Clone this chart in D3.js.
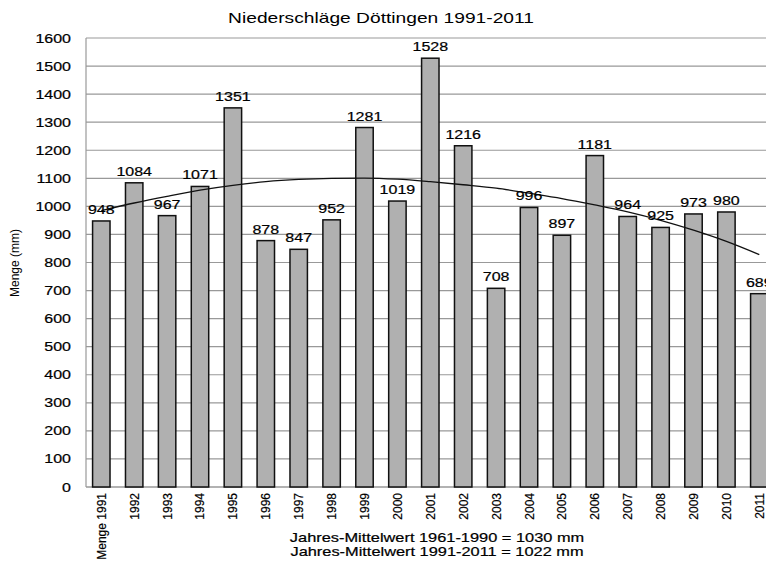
<html>
  <head>
    <script src="https://d3js.org/d3.v7.min.js"></script>
    <style>
      body { margin: 0; background: white; }
      text { font-family: "Liberation Sans", Arial, sans-serif; fill: #000; stroke: #000; stroke-width: 0.2; }
    </style>
  </head>
  <body>
    <svg id="chart" width="766" height="562"></svg>
    <script>
      // data
      var years = ['Menge 1991', '1992', '1993', '1994', '1995', '1996', '1997', '1998', '1999', '2000',
                   '2001', '2002', '2003', '2004', '2005', '2006', '2007', '2008', '2009', '2010', '2011'];
      var amounts = [948, 1084, 967, 1071, 1351, 878, 847, 952, 1281, 1019,
                     1528, 1216, 708, 996, 897, 1181, 964, 925, 973, 980, 689];
      // polynomial trend line as drawn in the picture, one reading per year
      var trend = [985, 1012, 1036, 1058, 1075, 1088, 1096, 1100, 1101, 1097,
                   1088, 1077, 1065, 1047, 1028, 1005, 980, 950, 915, 875, 828];
      var yTicks = [0, 100, 200, 300, 400, 500, 600, 700, 800, 900, 1000, 1100, 1200, 1300, 1400, 1500, 1600];
      var title = 'Niederschläge Döttingen 1991-2011';
      var notes = ['Jahres-Mittelwert 1961-1990 = 1030 mm', 'Jahres-Mittelwert 1991-2011 = 1022 mm'];

      var svg = d3.select('#chart');
      var sx = 1.28; // the original picture is stretched sideways

      var x = d3.scaleBand()
        .domain(years)
        .range([86, 774.6])
        .paddingInner(0.47)
        .paddingOuter(0.2);

      var y = d3.scaleLinear()
        .domain([0, 1600])
        .range([487, 38]);

      // wide text helper
      function wideText(g, tx, ty, str, size, anchor) {
        return g.append('text')
          .attr('transform', 'translate(' + tx + ',' + ty + ') scale(' + sx + ',1)')
          .attr('text-anchor', anchor || 'middle')
          .style('font-size', size + 'px')
          .text(str);
      }

      // grid
      svg.append('g').selectAll('line')
        .data(yTicks)
        .join('line')
        .attr('x1', 86).attr('x2', 766)
        .attr('y1', function(d) { return y(d); })
        .attr('y2', function(d) { return y(d); })
        .attr('stroke', function(d) { return d === 0 ? '#666' : '#999'; })
        .attr('stroke-width', 1.2);

      svg.append('line')
        .attr('x1', 86).attr('x2', 86)
        .attr('y1', y(1600)).attr('y2', y(0))
        .attr('stroke', '#999').attr('stroke-width', 1.2);

      // y tick labels
      var yl = svg.append('g');
      yTicks.forEach(function(d) {
        wideText(yl, 71, y(d) + 4.5, d, 12.5, 'end');
      });

      // bars
      svg.append('g').selectAll('rect')
        .data(amounts)
        .join('rect')
        .attr('x', function(d, i) { return x(years[i]); })
        .attr('y', function(d) { return y(d); })
        .attr('width', x.bandwidth())
        .attr('height', function(d) { return y(0) - y(d); })
        .attr('fill', '#b0b0b0')
        .attr('stroke', '#111')
        .attr('stroke-width', 1.5);

      // trend line
      var line = d3.line()
        .x(function(d, i) { return x(years[i]) + x.bandwidth() / 2; })
        .y(function(d) { return y(d); })
        .curve(d3.curveMonotoneX);

      svg.append('path')
        .datum(trend)
        .attr('d', line)
        .attr('fill', 'none')
        .attr('stroke', '#111')
        .attr('stroke-width', 1.3);

      // value labels
      var vl = svg.append('g');
      amounts.forEach(function(d, i) {
        wideText(vl, x(years[i]) + x.bandwidth() / 2, y(d) - 7, d, 12.5, 'middle');
      });

      // x tick labels, rotated
      svg.append('g').selectAll('text')
        .data(years)
        .join('text')
        .attr('transform', function(d) {
          return 'translate(' + (x(d) + x.bandwidth() / 2 + 4.5) + ',493) rotate(-90)';
        })
        .attr('text-anchor', 'end')
        .style('font-size', '12px')
        .text(function(d) { return d; });

      // y axis title
      svg.append('text')
        .attr('transform', 'translate(19,263) rotate(-90)')
        .attr('text-anchor', 'middle')
        .style('font-size', '12px')
        .style('stroke-width', 0)
        .text('Menge (mm)');

      // title and notes
      wideText(svg, 381, 23, title, 15, 'middle').style('stroke-width', 0);
      wideText(svg, 437, 542, notes[0], 12.8, 'middle');
      wideText(svg, 437, 556, notes[1], 12.8, 'middle');
    </script>
  </body>
</html>
